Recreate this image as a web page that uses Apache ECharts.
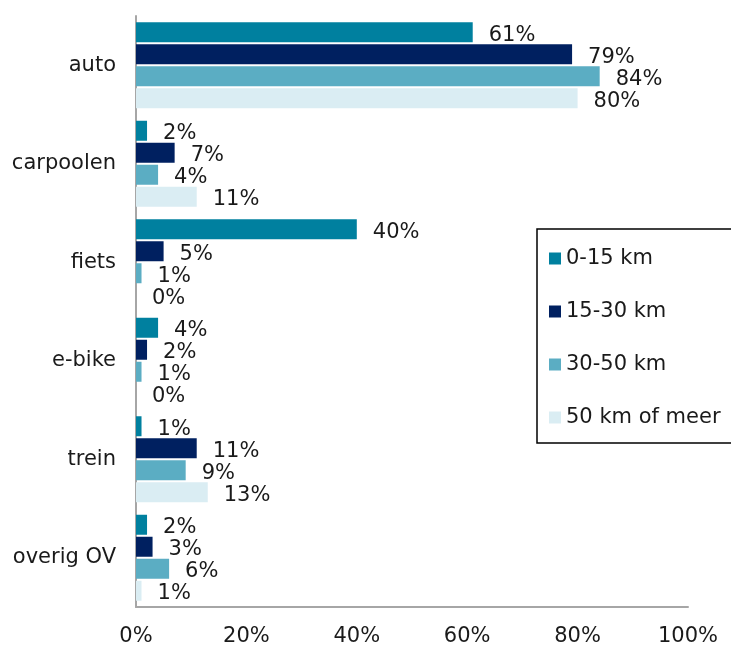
<!DOCTYPE html>
<html>
<head>
<meta charset="utf-8">
<script src="https://cdn.jsdelivr.net/npm/echarts@6/dist/echarts.min.js"></script>
<style>
  html, body { margin: 0; padding: 0; background: #fff; }
  #chart { width: 731px; height: 647px; }
</style>
</head>
<body>
<div id="chart"></div>
<script>
const categories = ['auto', 'carpoolen', 'fiets', 'e-bike', 'trein', 'overig OV'];
const seriesNames = ['0-15 km', '15-30 km', '30-50 km', '50 km of meer'];
const km0to15 = [61, 2, 40, 4, 1, 2];
const km15to30 = [79, 7, 5, 2, 11, 3];
const km30to50 = [84, 4, 1, 1, 9, 6];
const km50plus = [80, 11, 0, 0, 13, 1];
const xTicks = [0, 20, 40, 60, 80, 100];

const colors = ['#00809f', '#002060', '#5badc3', '#daedf3'];
const seriesData = [km0to15, km15to30, km30to50, km50plus];

const initChart = () => {
  const chartDom = document.querySelector('#chart');
  const myChart = echarts.init(chartDom);
  const fontFamily = 'DejaVu Sans';
  const fontSize = 21;
  let option;
  option = {
    animation: false,
    textStyle: {fontFamily: fontFamily},
    grid: {
      left: 136,
      right: 43,
      top: 16,
      bottom: 38,
      containLabel: false
    },
    legend: {
      orient: 'vertical',
      left: 537,
      top: 229,
      data: seriesNames,
      icon: 'rect',
      itemWidth: 12,
      itemHeight: 12,
      itemGap: 32,
      padding: [19, 40, 15, 12],
      borderColor: '#000',
      borderWidth: 1.5,
      textStyle: {fontSize: fontSize, color: '#1a1a1a', fontFamily: fontFamily}
    },
    xAxis: {
      type: 'value',
      min: xTicks[0],
      max: xTicks[xTicks.length - 1],
      interval: 20,
      axisLine: {show: true, lineStyle: {color: '#a6a6a6', width: 2}},
      axisTick: {show: false},
      splitLine: {show: false},
      axisLabel: {
        formatter: '{value}%',
        fontSize: fontSize,
        color: '#1a1a1a',
        margin: 19
      }
    },
    yAxis: {
      type: 'category',
      data: categories,
      inverse: true,
      axisLine: {show: true, lineStyle: {color: '#a6a6a6', width: 2}},
      axisTick: {show: false},
      axisLabel: {fontSize: fontSize, color: '#1a1a1a', margin: 20, padding: [4, 0, 0, 0]}
    },
    series: seriesNames.map((name, i) => {
      return {
        name: name,
        type: 'bar',
        data: seriesData[i],
        barWidth: 20,
        barGap: '10%',
        itemStyle: {color: colors[i]},
        label: {
          show: true,
          position: 'right',
          distance: 16,
          formatter: '{c}%',
          fontSize: fontSize,
          color: '#1a1a1a',
          offset: [0, 3]
        }
      }
    })
  };
  option && myChart.setOption(option);
}

initChart()
</script>
</body>
</html>
